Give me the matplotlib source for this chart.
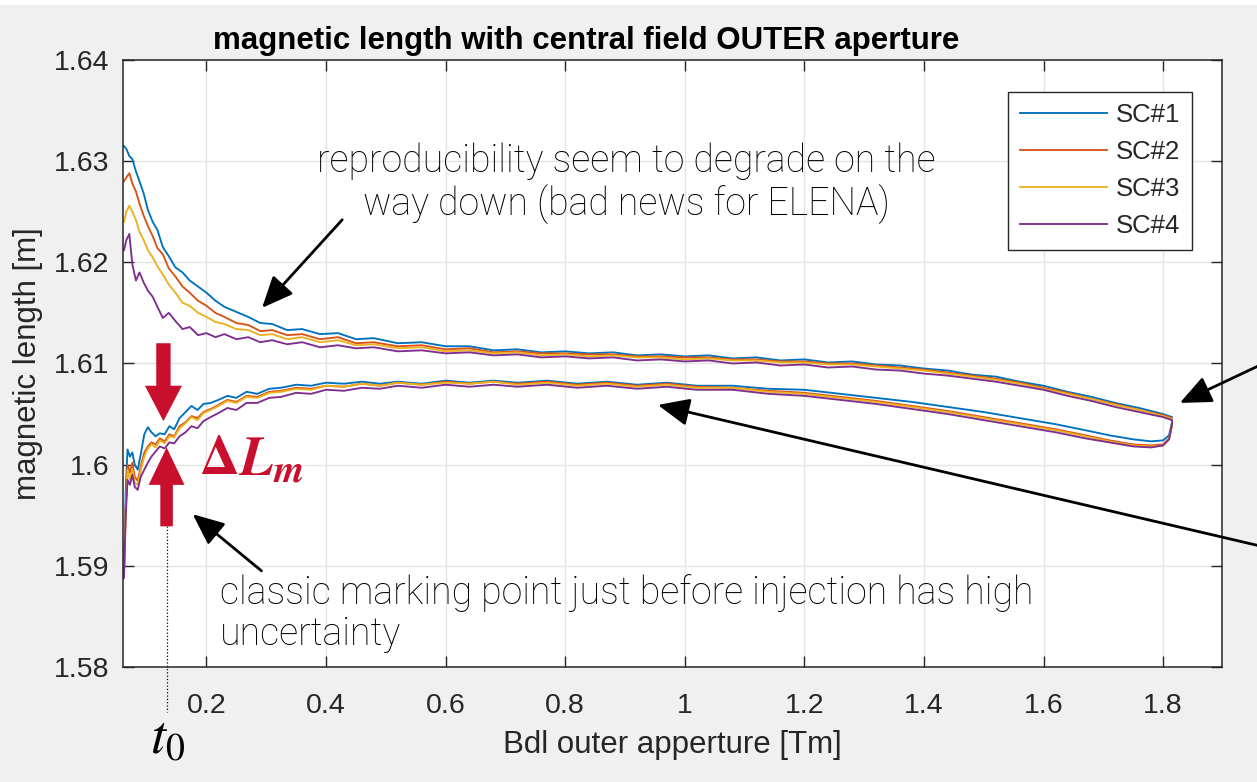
import matplotlib
matplotlib.use("Agg")
import matplotlib.pyplot as plt
from matplotlib.patches import FancyArrow, Rectangle

plt.rcParams['font.family'] = ['Liberation Sans', 'DejaVu Sans']
plt.rcParams['mathtext.fontset'] = 'stix'

# ---------------------------------------------------------------- data
series_names = ['SC#1', 'SC#2', 'SC#3', 'SC#4']
series_colors = ['#0072BD', '#D95319', '#EDB120', '#7E2F8E']

# integrated field on the ramp up (ascending branch) [Tm]
bdl_ramp_up = [0.062, 0.065, 0.068, 0.072, 0.076, 0.080, 0.085, 0.090, 0.096, 0.102,
               0.108, 0.115, 0.122, 0.130, 0.138, 0.146, 0.155, 0.165, 0.175, 0.185,
               0.195, 0.207, 0.220, 0.235, 0.250, 0.267, 0.285, 0.305, 0.325, 0.35,
               0.375, 0.40, 0.43, 0.46, 0.49, 0.52, 0.56, 0.60, 0.64, 0.68,
               0.72, 0.77, 0.82, 0.87, 0.92, 0.97, 1.02, 1.08, 1.14, 1.20,
               1.26, 1.32, 1.38, 1.44, 1.50, 1.56, 1.62, 1.67, 1.71, 1.75,
               1.78, 1.80, 1.81, 1.815]

# integrated field on the ramp down (descending branch) [Tm]
bdl_ramp_down = [1.815, 1.80, 1.76, 1.72, 1.68, 1.64, 1.60, 1.56, 1.52, 1.48,
                 1.44, 1.40, 1.36, 1.32, 1.28, 1.24, 1.20, 1.16, 1.12, 1.08,
                 1.04, 1.00, 0.96, 0.92, 0.88, 0.84, 0.80, 0.76, 0.72, 0.68,
                 0.64, 0.60, 0.56, 0.52, 0.48, 0.45, 0.42, 0.39, 0.36, 0.335,
                 0.31, 0.29, 0.27, 0.25, 0.23, 0.215, 0.20, 0.186, 0.172, 0.160,
                 0.148, 0.137, 0.127, 0.118, 0.110, 0.102, 0.095, 0.088, 0.082, 0.076,
                 0.071, 0.066, 0.062]

# magnetic length [m], ramp up
lm_up_sc1 = [1.5890, 1.5975, 1.6015, 1.6008, 1.6012, 1.6000, 1.5995, 1.6010, 1.6030, 1.6037,
             1.6032, 1.6028, 1.6031, 1.6030, 1.6038, 1.6035, 1.6046, 1.6052, 1.6058, 1.6054,
             1.6060, 1.6061, 1.6064, 1.6068, 1.6066, 1.6072, 1.6070, 1.6075, 1.6076, 1.6079,
             1.6078, 1.6081, 1.6080, 1.6082, 1.6080, 1.6082, 1.6080, 1.6083, 1.6081, 1.6083,
             1.6081, 1.6083, 1.6080, 1.6082, 1.6079, 1.6081, 1.6078, 1.6078, 1.6075, 1.6074,
             1.6070, 1.6066, 1.6062, 1.6057, 1.6052, 1.6046, 1.6040, 1.6034, 1.6029, 1.6025,
             1.6023, 1.6024, 1.6029, 1.6042]
lm_up_sc2 = [1.5892, 1.5960, 1.6000, 1.5992, 1.6002, 1.5988, 1.5984, 1.5998, 1.6012, 1.6018,
             1.6022, 1.6020, 1.6026, 1.6023, 1.6030, 1.6028, 1.6038, 1.6042, 1.6048, 1.6046,
             1.6052, 1.6055, 1.6059, 1.6064, 1.6062, 1.6068, 1.6067, 1.6072, 1.6073, 1.6076,
             1.6075, 1.6078, 1.6077, 1.6080, 1.6078, 1.6081, 1.6079, 1.6082, 1.6080, 1.6082,
             1.6080, 1.6082, 1.6079, 1.6081, 1.6078, 1.6080, 1.6077, 1.6076, 1.6073, 1.6071,
             1.6067, 1.6063, 1.6058, 1.6053, 1.6047, 1.6041, 1.6035, 1.6029, 1.6024, 1.6020,
             1.6019, 1.6020, 1.6026, 1.6040]
lm_up_sc3 = [1.5888, 1.5955, 1.5995, 1.5985, 1.5996, 1.5982, 1.5980, 1.5994, 1.6008, 1.6016,
             1.6020, 1.6017, 1.6024, 1.6021, 1.6028, 1.6027, 1.6036, 1.6041, 1.6047, 1.6044,
             1.6051, 1.6054, 1.6058, 1.6063, 1.6061, 1.6067, 1.6066, 1.6071, 1.6072, 1.6075,
             1.6074, 1.6078, 1.6077, 1.6080, 1.6078, 1.6081, 1.6079, 1.6081, 1.6080, 1.6082,
             1.6079, 1.6081, 1.6078, 1.6080, 1.6077, 1.6079, 1.6076, 1.6076, 1.6072, 1.6070,
             1.6066, 1.6062, 1.6057, 1.6052, 1.6046, 1.6040, 1.6034, 1.6028, 1.6023, 1.6019,
             1.6018, 1.6019, 1.6025, 1.6039]
lm_up_sc4 = [1.5888, 1.5950, 1.5985, 1.5980, 1.5990, 1.5978, 1.5975, 1.5988, 1.5995, 1.6002,
             1.6008, 1.6013, 1.6018, 1.6016, 1.6022, 1.6021, 1.6028, 1.6032, 1.6038, 1.6036,
             1.6043, 1.6047, 1.6051, 1.6056, 1.6054, 1.6061, 1.6061, 1.6066, 1.6067, 1.6071,
             1.6070, 1.6074, 1.6073, 1.6076, 1.6075, 1.6078, 1.6076, 1.6079, 1.6077, 1.6079,
             1.6077, 1.6079, 1.6076, 1.6078, 1.6075, 1.6077, 1.6074, 1.6074, 1.6070, 1.6068,
             1.6064, 1.6060, 1.6055, 1.6050, 1.6044, 1.6038, 1.6032, 1.6026, 1.6022, 1.6018,
             1.6017, 1.6019, 1.6025, 1.6040]

# magnetic length [m], ramp down
lm_down_sc1 = [1.6047, 1.6050, 1.6056, 1.6061, 1.6067, 1.6072, 1.6078, 1.6082, 1.6087, 1.6089,
               1.6093, 1.6095, 1.6098, 1.6099, 1.6102, 1.6101, 1.6104, 1.6103, 1.6106, 1.6105,
               1.6108, 1.6107, 1.6109, 1.6108, 1.6111, 1.6110, 1.6112, 1.6111, 1.6114, 1.6113,
               1.6117, 1.6117, 1.6121, 1.6120, 1.6125, 1.6124, 1.6130, 1.6129, 1.6134, 1.6133,
               1.6139, 1.6140, 1.6146, 1.6151, 1.6156, 1.6162, 1.6170, 1.6176, 1.6182, 1.6190,
               1.6195, 1.6206, 1.6215, 1.6232, 1.6240, 1.6252, 1.6268, 1.6280, 1.6290, 1.6302,
               1.6305, 1.6312, 1.6315]
lm_down_sc2 = [1.6046, 1.6049, 1.6054, 1.6060, 1.6065, 1.6071, 1.6076, 1.6081, 1.6085, 1.6088,
               1.6091, 1.6094, 1.6096, 1.6098, 1.6100, 1.6100, 1.6102, 1.6102, 1.6104, 1.6104,
               1.6106, 1.6106, 1.6107, 1.6107, 1.6109, 1.6109, 1.6110, 1.6110, 1.6112, 1.6111,
               1.6115, 1.6114, 1.6118, 1.6117, 1.6121, 1.6120, 1.6126, 1.6124, 1.6129, 1.6128,
               1.6133, 1.6132, 1.6138, 1.6140, 1.6146, 1.6150, 1.6157, 1.6162, 1.6170, 1.6176,
               1.6186, 1.6194, 1.6208, 1.6214, 1.6226, 1.6236, 1.6246, 1.6258, 1.6270, 1.6278,
               1.6288, 1.6284, 1.6280]
lm_down_sc3 = [1.6045, 1.6048, 1.6054, 1.6059, 1.6065, 1.6070, 1.6075, 1.6080, 1.6084, 1.6087,
               1.6090, 1.6093, 1.6095, 1.6097, 1.6099, 1.6099, 1.6101, 1.6101, 1.6103, 1.6103,
               1.6105, 1.6104, 1.6106, 1.6106, 1.6108, 1.6107, 1.6109, 1.6108, 1.6111, 1.6110,
               1.6113, 1.6112, 1.6116, 1.6115, 1.6119, 1.6118, 1.6123, 1.6121, 1.6126, 1.6124,
               1.6129, 1.6128, 1.6133, 1.6134, 1.6139, 1.6141, 1.6146, 1.6150, 1.6157, 1.6160,
               1.6170, 1.6178, 1.6188, 1.6196, 1.6205, 1.6212, 1.6222, 1.6230, 1.6242, 1.6250,
               1.6256, 1.6250, 1.6240]
lm_down_sc4 = [1.6044, 1.6047, 1.6052, 1.6057, 1.6063, 1.6068, 1.6074, 1.6078, 1.6082, 1.6085,
               1.6088, 1.6090, 1.6093, 1.6094, 1.6097, 1.6096, 1.6099, 1.6098, 1.6101, 1.6100,
               1.6103, 1.6102, 1.6104, 1.6103, 1.6106, 1.6105, 1.6107, 1.6106, 1.6109, 1.6108,
               1.6111, 1.6110, 1.6113, 1.6112, 1.6116, 1.6115, 1.6118, 1.6116, 1.6121, 1.6119,
               1.6123, 1.6121, 1.6126, 1.6124, 1.6129, 1.6126, 1.6130, 1.6128, 1.6136, 1.6134,
               1.6142, 1.6150, 1.6145, 1.6156, 1.6166, 1.6172, 1.6180, 1.6190, 1.6182, 1.6198,
               1.6228, 1.6222, 1.6212]

lm_up = [lm_up_sc1, lm_up_sc2, lm_up_sc3, lm_up_sc4]
lm_down = [lm_down_sc1, lm_down_sc2, lm_down_sc3, lm_down_sc4]

x_ticks = [0.2, 0.4, 0.6, 0.8, 1.0, 1.2, 1.4, 1.6, 1.8]
x_tick_labels = ['0.2', '0.4', '0.6', '0.8', '1', '1.2', '1.4', '1.6', '1.8']
y_ticks = [1.58, 1.59, 1.60, 1.61, 1.62, 1.63, 1.64]
y_tick_labels = ['1.58', '1.59', '1.6', '1.61', '1.62', '1.63', '1.64']

# injection marking point
t0_bdl = 0.134

# ---------------------------------------------------------------- figure
AX_COL = '#262626'
RED = '#C8102E'

fig = plt.figure(figsize=(12.57, 7.82), dpi=100, facecolor='#f0f0f0')
fig.patches.append(Rectangle((0, 0.994), 1, 0.006, transform=fig.transFigure,
                             facecolor='white', edgecolor='none', zorder=0))
ax = fig.add_axes([0.0979, 0.1471, 0.8740, 0.7762])
ax.set_facecolor('white')

for name, col, up, down in zip(series_names, series_colors, lm_up, lm_down):
    ax.plot(bdl_ramp_up + bdl_ramp_down, up + down, color=col, lw=1.35, label=name)

ax.set_xlim(0.0605, 1.898)
ax.set_ylim(1.58, 1.64)
ax.set_xticks(x_ticks)
ax.set_xticklabels(x_tick_labels)
ax.set_yticks(y_ticks)
ax.set_yticklabels(y_tick_labels)
ax.tick_params(direction='in', length=8, width=1.0, top=True, right=True,
               colors=AX_COL, labelsize=20.5)
ax.tick_params(axis='x', pad=19)
ax.tick_params(axis='y', pad=10)
ax.grid(True, color='#e4e4e4', lw=1.0)
ax.set_axisbelow(True)
for sp in ax.spines.values():
    sp.set_color(AX_COL)
    sp.set_linewidth(1.1)

ax.set_xlabel('Bdl outer apperture [Tm]', fontsize=22.5, color=AX_COL, labelpad=8)
ax.set_ylabel('magnetic length [m]', fontsize=22.5, color=AX_COL, labelpad=8)
ax.set_title('magnetic length with central field OUTER aperture', fontsize=22.5,
             fontweight='bold', color='black', x=0.4215, pad=8)

leg = ax.legend(loc='upper right', bbox_to_anchor=(0.973, 0.9475), borderaxespad=0,
                fontsize=18.5, frameon=True, fancybox=False, framealpha=1,
                edgecolor=AX_COL, handlelength=3.4, handletextpad=0.35,
                labelspacing=0.5, borderpad=0.45)
leg.get_frame().set_linewidth(1.0)
for t in leg.get_texts():
    t.set_color(AX_COL)

# ---------------------------------------------------------------- annotations
note_font = dict(family=['Roboto', 'Liberation Sans'], fontweight='light', color='black')

ax.text(0.903, 1.6278, 'reproducibility seem to degrade on the\nway down (bad news for ELENA)',
        ha='center', va='center', multialignment='center', fontsize=27,
        linespacing=1.15, **note_font)
ax.text(0.222, 1.5892, 'classic marking point just before injection has high\nuncertainty',
        ha='left', va='top', fontsize=27, linespacing=1.12, **note_font)

arrow_kw = dict(arrowstyle='-|>,head_length=0.8,head_width=0.35', color='black', lw=2.0,
                shrinkA=0, shrinkB=0, mutation_scale=24)
ax.annotate('', xy=(0.293, 1.6155), xytext=(0.427, 1.6242), arrowprops=arrow_kw)
ax.annotate('', xy=(0.177, 1.5951), xytext=(0.292, 1.5895), arrowprops=arrow_kw)
ax.annotate('', xy=(1.828, 1.6061), xycoords='data', xytext=(1290, 431),
            textcoords='figure pixels', arrowprops=arrow_kw, annotation_clip=False)
ax.annotate('', xy=(0.955, 1.6059), xycoords='data', xytext=(1290, 229),
            textcoords='figure pixels', arrowprops=arrow_kw, annotation_clip=False)

# spread of the magnetic length at the marking point
ax.add_patch(FancyArrow(0.128, 1.6120, 0, -0.0077, width=0.024, head_width=0.062,
                        head_length=0.0035, length_includes_head=True,
                        color=RED, lw=0, zorder=5))
ax.add_patch(FancyArrow(0.1333, 1.5939, 0, 0.0078, width=0.021, head_width=0.060,
                        head_length=0.0037, length_includes_head=True,
                        color=RED, lw=0, zorder=5))
ax.text(0.188, 1.5990, r'$\mathbf{\Delta}\mathbfit{L}_{\mathbfit{m}}$', color=RED,
        fontsize=40, ha='left', va='baseline', zorder=6)

ax.plot([t0_bdl, t0_bdl], [1.5939, 1.5755], ls=':', color='black', lw=0.9, clip_on=False)
fig.text(150 / 1257, 29 / 782, r'$t_0$', fontsize=39, ha='left', va='baseline', color='black')

fig.savefig('out.png', dpi=100, facecolor=fig.get_facecolor())
